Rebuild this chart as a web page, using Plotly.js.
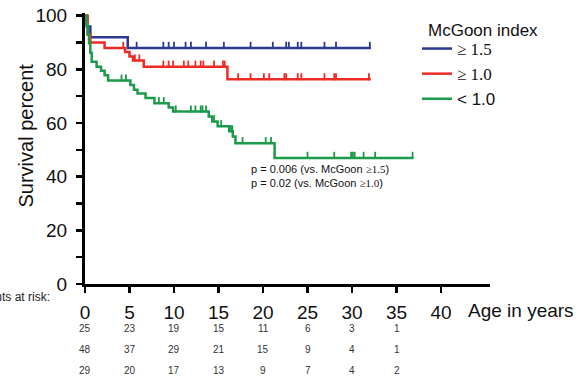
<!DOCTYPE html>
<html>
<head>
<meta charset="utf-8">
<script src="https://cdn.plot.ly/plotly-3.0.1.min.js"></script>
<style>html,body{margin:0;padding:0;background:#fff;}#chart{width:581px;height:378px;}</style>
</head>
<body>
<div id="chart"></div>
<script>
// ---- data ----
const xTicks = [0, 5, 10, 15, 20, 25, 30, 35, 40];
const yTicks = [0, 10, 20, 30, 40, 50, 60, 70, 80, 90, 100];
const yTickText = ['0', '', '20', '', '40', '', '60', '', '80', '', '100'];

const groupNames = ['≥ 1.5', '≥ 1.0', '< 1.0'];

const blueTimes = [0, 0.2, 0.6, 4.8, 32.1];
const blueSurv  = [100, 96, 92, 88, 88];
const blueCensor = [5.8, 8.8, 9.4, 10.0, 11.3, 11.9, 13.6, 15.6, 18.6, 21.1, 22.6, 22.9, 23.9, 24.3, 26.9, 28.2, 32.0];

const redTimes = [0, 0.3, 0.6, 2.2, 4.5, 5.0, 5.4, 6.6, 16.0, 32.1];
const redSurv  = [100, 93, 90, 88, 86.5, 84.8, 83.3, 81, 76.3, 76.3];
const redCensor = [4.3, 5.6, 6.1, 8.8, 9.4, 9.9, 11.1, 11.6, 12.4, 13.0, 13.3, 14.5, 15.5, 15.7, 17.2, 18.6, 20.1, 20.7, 22.4, 22.6, 23.9, 24.3, 26.9, 28.0, 28.2, 31.9];

const greenTimes = [0, 0.15, 0.3, 0.45, 0.6, 0.75, 1.3, 1.8, 2.2, 2.6, 5.1, 5.5, 5.9, 6.8, 7.8, 9.4, 9.9, 13.9, 14.3, 14.9, 16.2, 16.6, 16.9, 21.3, 36.9];
const greenSurv  = [100, 96.6, 93.1, 89.7, 86.2, 82.8, 81, 79.5, 77.8, 75.8, 74.2, 72.4, 71, 69.3, 67.4, 65.8, 64.3, 62.4, 60.6, 58.8, 56.9, 55, 52.5, 47, 47];
const greenCensor = [4.1, 4.6, 8.3, 8.85, 10.2, 11.9, 12.4, 13.0, 13.2, 13.6, 14.5, 15.3, 16.4, 16.55, 17.7, 20.3, 20.9, 25.0, 28.0, 29.9, 30.1, 30.3, 31.3, 32.6, 36.8];

const riskBlue  = [25, 23, 19, 15, 11, 6, 3, 1];
const riskRed   = [48, 37, 29, 21, 15, 9, 4, 1];
const riskGreen = [29, 20, 17, 13, 9, 7, 4, 2];

// ---- styling ----
const colors = ['#2b3990', '#ee2a24', '#1b9a4a'];
const FONT = 'Liberation Sans, Arial, Helvetica, sans-serif';
const SERIF = 'Liberation Serif, Times New Roman, serif';
const tickUp = 0.95; // censor tick drawn just above the curve

function survAt(T, S, t) {
  let s = S[0];
  for (let i = 0; i < T.length; i++) if (T[i] <= t) s = S[i];
  return s;
}

const groups = [
  {T: blueTimes, S: blueSurv, C: blueCensor},
  {T: redTimes, S: redSurv, C: redCensor},
  {T: greenTimes, S: greenSurv, C: greenCensor}
];

const legendLabels = [
  '<span style="font-family:' + SERIF + '">' + groupNames[0] + '</span>',
  '<span style="font-family:' + SERIF + '">' + groupNames[1] + '</span>',
  groupNames[2]
];

const traces = [];
groups.forEach((g, i) => {
  traces.push({
    x: g.T, y: g.S, type: 'scatter', mode: 'lines',
    line: {shape: 'hv', color: colors[i], width: 2.5},
    name: legendLabels[i], legendgroup: 'g' + i, showlegend: true,
    hoverinfo: 'skip'
  });
});
groups.forEach((g, i) => {
  traces.push({
    x: g.C, y: g.C.map(t => survAt(g.T, g.S, t) + tickUp),
    type: 'scatter', mode: 'markers',
    marker: {symbol: 'line-ns', size: 5, color: colors[i], line: {color: colors[i], width: 1.8}},
    legendgroup: 'g' + i, showlegend: false, hoverinfo: 'skip', cliponaxis: false
  });
});

const annotations = [];
annotations.push({
  text: 'Age in years', xref: 'paper', yref: 'paper', x: 1, y: 0,
  xanchor: 'left', yanchor: 'middle', xshift: -24, yshift: -26,
  showarrow: false, font: {family: FONT, size: 19, color: '#111'}
});
annotations.push({
  text: 'Survival percent', xref: 'paper', yref: 'paper', x: 0, y: 0.5,
  xanchor: 'center', yanchor: 'middle', xshift: -60, yshift: 13, textangle: -90,
  showarrow: false, font: {family: FONT, size: 20, color: '#111'}
});
annotations.push({
  text: 'McGoon index', xref: 'paper', yref: 'paper', x: (426 - 85) / 405, y: (284 - 30) / 271,
  xanchor: 'left', yanchor: 'middle',
  showarrow: false, font: {family: FONT, size: 17, color: '#111'}
});
annotations.push({
  text: 'Patients at risk:', xref: 'paper', yref: 'paper', x: 0, y: 0,
  xanchor: 'right', yanchor: 'middle', xshift: -33, yshift: -13,
  showarrow: false, font: {family: FONT, size: 12, color: '#222'}
});
[riskBlue, riskRed, riskGreen].forEach((row, r) => {
  row.forEach((v, k) => {
    annotations.push({
      text: String(v), xref: 'x', yref: 'paper', x: xTicks[k], y: 0,
      xanchor: 'center', yanchor: 'middle', yshift: -44 - r * 21,
      showarrow: false, font: {family: FONT, size: 10, color: '#333'}
    });
  });
});
annotations.push({
  text: 'p = 0.006 (vs. McGoon <span style="font-family:' + SERIF + '">≥1.5</span>)<br>p = 0.02 (vs. McGoon <span style="font-family:' + SERIF + '">≥1.0</span>)',
  xref: 'paper', yref: 'paper', x: (249 - 85) / 405, y: (284 - 161) / 271,
  xanchor: 'left', yanchor: 'top', align: 'left',
  showarrow: false, font: {family: FONT, size: 11, color: '#111'}
});

const layout = {
  width: 581, height: 378,
  margin: {l: 85, r: 91, t: 13, b: 94, pad: 0},
  paper_bgcolor: '#fff', plot_bgcolor: '#fff',
  font: {family: FONT, color: '#111'},
  showlegend: true,
  legend: {
    x: (417 - 85) / 405, y: (284 - 31) / 271, xanchor: 'left', yanchor: 'top',
    bgcolor: 'rgba(0,0,0,0)',
    font: {family: FONT, size: 17, color: '#111'},
    itemwidth: 30, tracegroupgap: 0
  },
  xaxis: {
    range: [0, 45.5], tickvals: xTicks, ticktext: xTicks.map(String),
    showgrid: false, zeroline: false, showline: true, linecolor: '#000', linewidth: 3,
    ticks: 'outside', ticklen: 6, tickwidth: 2.5, tickcolor: '#000',
    tickfont: {family: FONT, size: 19, color: '#111'}, ticklabelstandoff: 3,
    fixedrange: true
  },
  yaxis: {
    range: [0, 101], tickvals: yTicks, ticktext: yTickText,
    showgrid: false, zeroline: false, showline: true, linecolor: '#000', linewidth: 3,
    ticks: 'outside', ticklen: 6, tickwidth: 2.5, tickcolor: '#000',
    tickfont: {family: FONT, size: 19, color: '#111'}, ticklabelstandoff: 5,
    fixedrange: true
  },
  annotations: annotations
};

Plotly.newPlot('chart', traces, layout, {displayModeBar: false, staticPlot: true});
</script>
</body>
</html>
